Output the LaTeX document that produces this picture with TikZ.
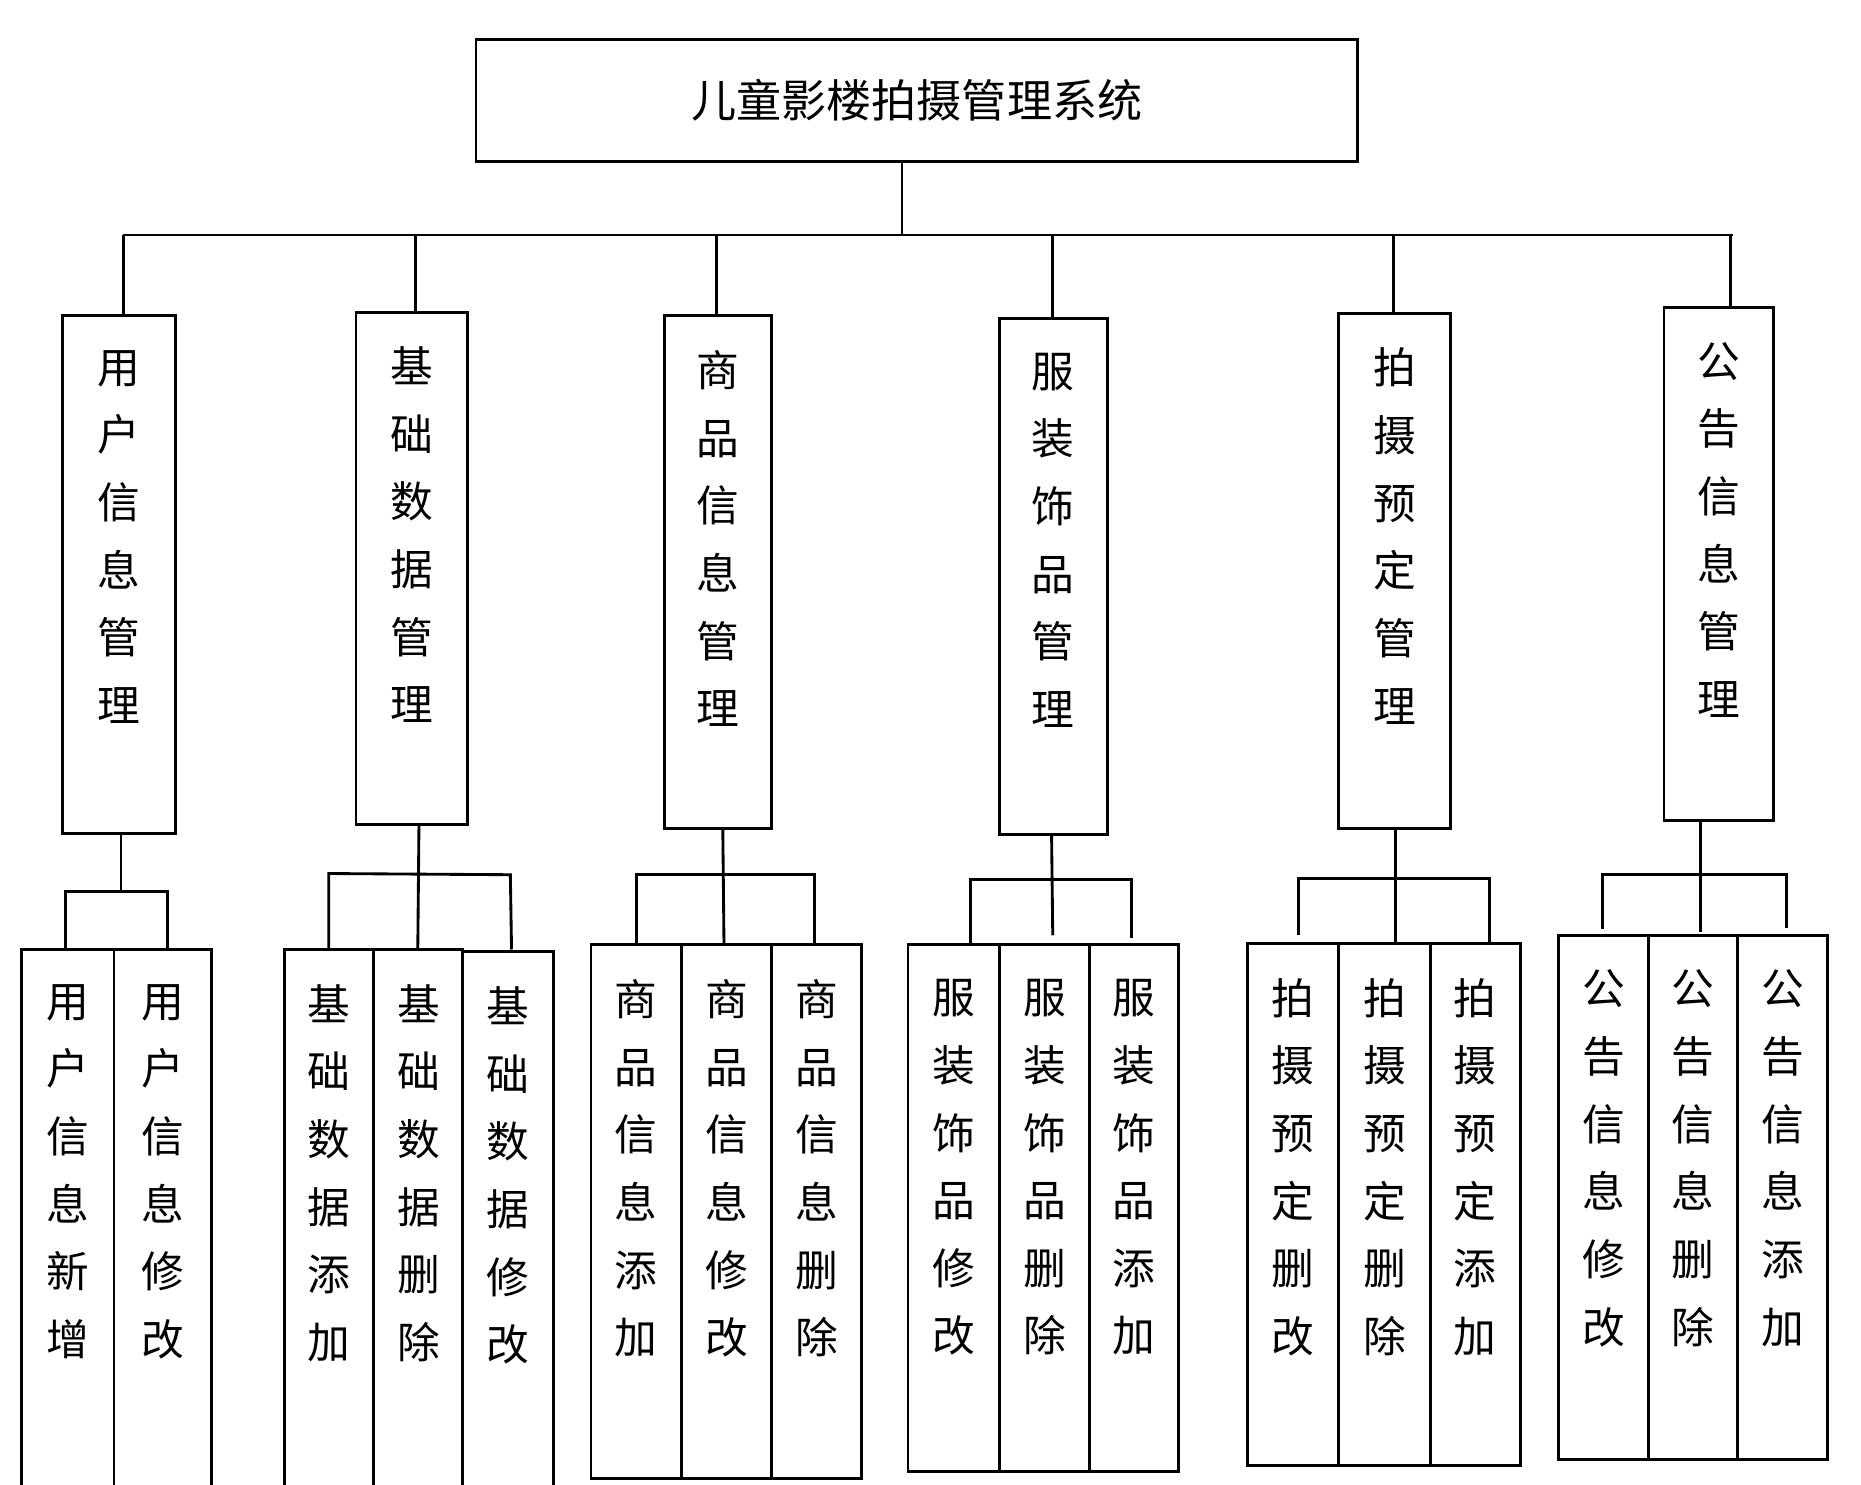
\documentclass[tikz,border=0pt]{standalone}
\usepackage{fontspec}
\newfontfamily\cjk{Noto Sans CJK SC}
\begin{document}
\begin{tikzpicture}[x=0.5pt,y=-0.5pt,line width=1.2pt,
  box/.style={draw,rectangle,inner sep=0pt},
  vtxt/.style={anchor=north,align=center,inner sep=0pt,font=\cjk\fontsize{18}{28.5}\selectfont}]
\useasboundingbox (0,0) rectangle (1568,1251);
\newcommand\bx[6]{%
  \node[box,minimum width={(#3-#2)*0.5pt},minimum height={(#5-#4)*0.5pt}] (#1) at ({(#2+#3)/2},{(#4+#5)/2}) {};
  \node[vtxt] (#1t) at ({(#2+#3)/2},{#4+28}) {#6};}
% title
\node[box,minimum width=371.5pt,minimum height=51.5pt,font=\cjk\fontsize{19}{22}\selectfont] (root) at (772.5,84.5) {儿童影楼拍摄管理系统};
\coordinate (bj) at (760,198);
\coordinate (bl) at (104,198);
\coordinate (br) at (1460,198);
\draw (root.south -| bj) -- (bj);
\draw (bl) -- (br);
% level 2
\bx{a}{53}{148}{266}{702}{用\\户\\信\\息\\管\\理}
\bx{b}{300}{394}{263}{695}{基\\础\\数\\据\\管\\理}
\bx{c}{560}{650}{266}{698}{商\\品\\信\\息\\管\\理}
\bx{d}{842}{933}{268}{703}{服\\装\\饰\\品\\管\\理}
\bx{e}{1128}{1222}{264}{698}{拍\\摄\\预\\定\\管\\理}
\bx{f}{1402}{1494}{259}{691}{公\\告\\信\\息\\管\\理}
\foreach \n/\x in {a/104,b/350,c/604,d/887,e/1174,f/1458}
  \draw (\x,198) -- (\x,200 |- \n.north);
% group 1
\bx{a1}{18}{96}{800}{1252}{用\\户\\信\\息\\新\\增}
\bx{a2}{96}{178}{800}{1252}{用\\户\\信\\息\\修\\改}
\draw (102,702) -- (102,751);
\draw (55,800) -- (55,751) -- (141,751) -- (141,800);
% group 2
\bx{b1}{240}{315}{800}{1252}{基\\础\\数\\据\\添\\加}
\bx{b2}{315}{390}{800}{1252}{基\\础\\数\\据\\删\\除}
\bx{b3}{390}{466}{802}{1252}{基\\础\\数\\据\\修\\改}
\draw (353,695) -- (352,800);
\draw (277,800) -- (277,736) -- (430,737) -- (431,800);
% group 3
\bx{c1}{498}{574}{796}{1246}{商\\品\\信\\息\\添\\加}
\bx{c2}{574}{650}{796}{1246}{商\\品\\信\\息\\修\\改}
\bx{c3}{650}{726}{796}{1246}{商\\品\\信\\息\\删\\除}
\draw (609,698) -- (610,796);
\draw (536,796) -- (536,737) -- (686,737) -- (686,796);
% group 4
\bx{d1}{765}{842}{796}{1240}{服\\装\\饰\\品\\修\\改}
\bx{d2}{842}{918}{796}{1240}{服\\装\\饰\\品\\删\\除}
\bx{d3}{918}{993}{796}{1240}{服\\装\\饰\\品\\添\\加}
\draw (886,703) -- (887,788);
\draw (818,796) -- (818,741) -- (953,741) -- (953,790);
% group 5
\bx{e1}{1051}{1128}{795}{1235}{拍\\摄\\预\\定\\删\\改}
\bx{e2}{1128}{1205}{795}{1235}{拍\\摄\\预\\定\\删\\除}
\bx{e3}{1205}{1281}{795}{1235}{拍\\摄\\预\\定\\添\\加}
\draw (1176,698) -- (1176,795);
\draw (1094,788) -- (1094,740) -- (1255,740) -- (1255,795);
% group 6
\bx{f1}{1313}{1389}{788}{1230}{公\\告\\信\\息\\修\\改}
\bx{f2}{1389}{1464}{788}{1230}{公\\告\\信\\息\\删\\除}
\bx{f3}{1464}{1540}{788}{1230}{公\\告\\信\\息\\添\\加}
\draw (1433,691) -- (1433,785);
\draw (1350,783) -- (1350,737) -- (1505,737) -- (1505,782);
\end{tikzpicture}
\end{document}
